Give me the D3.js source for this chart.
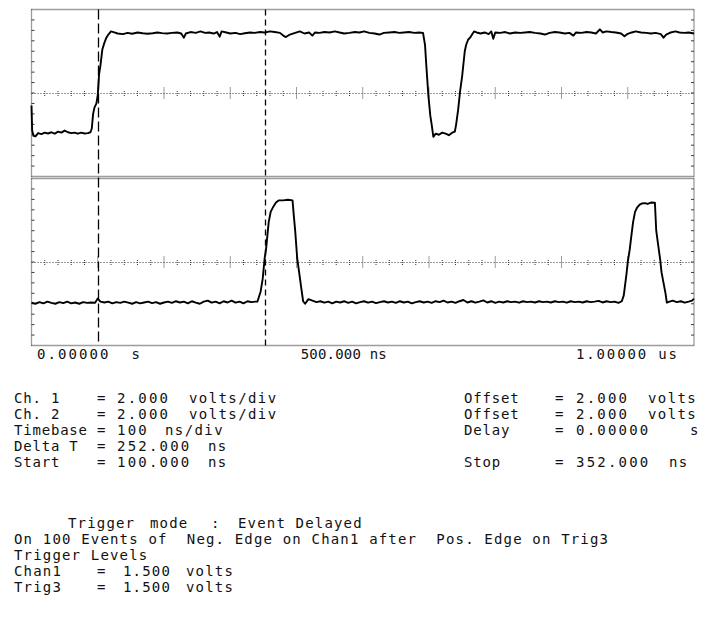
<!DOCTYPE html>
<html><head><meta charset="utf-8">
<script src="https://cdn.jsdelivr.net/npm/d3@7"></script>
<style>
body{margin:0;background:#fff}
svg{display:block}
text{font-family:"DejaVu Sans Mono",monospace;font-size:14px;letter-spacing:1.4px;white-space:pre;fill:#111}
text.ax{letter-spacing:0}
text.lab{letter-spacing:0.8px}
text.val{letter-spacing:2.2px}
text.unit{letter-spacing:1.4px}
text.trg{letter-spacing:1.17px}
</style>
</head><body>
<svg id="c" width="713" height="623"></svg>
<script>
// ---- data (time in ns, level in volts) ----
const timeDomain = [0, 1000];
const voltDomain = [-2, 6];
const cursorTimes = [100, 352];
const timeLabels = ["0.00000  s", "500.000 ns", "1.00000 us"];

const ch1 = [[0,1.4],[1,0.2],[3,-0.05],[6,-0.08],[10,0.08],[15,0.03],[20,0.1],[25,0.06],[30,0.12],[35,0.05],[40,0.15],[45,0.1],[50,0.2],[55,0.12],[60,0.08],[65,0.1],[70,0.05],[75,0.1],[80,0.06],[85,0.08],[89,0.12],
 [91,0.3],[93,1.0],[95,1.3],[98,1.5],[100,1.9],[102,2.9],[104,3.3],[107,4.1],[110,4.4],[113,4.65],[116,4.8],[120,4.95],
 [125,4.9],[130,4.85],[138,4.82],[145,4.88],[152,4.84],[160,4.9],[168,4.86],[175,4.84],[183,4.86],[190,4.9],[197,4.87],[205,4.85],[212,4.88],[220,4.9],[226,4.85],[230,4.65],[233,4.85],[240,4.92],[248,4.88],[255,4.95],[262,4.88],[268,4.9],[275,4.85],[280,4.92],[284,4.7],[287,4.95],[294,4.9],[300,4.85],[308,4.88],[315,4.82],[322,4.86],[330,4.9],[337,4.88],[345,4.92],[352,4.9],[360,4.95],[367,4.92],[375,4.88],[380,4.75],[384,4.68],[390,4.8],[398,4.88],[405,4.95],[412,4.85],[419,4.9],[424,4.75],[428,4.9],[435,4.88],[442,4.92],[450,4.9],[458,4.95],
 [465,4.9],[472,4.85],[480,4.88],[488,4.92],[495,4.9],[502,4.95],[510,4.88],[518,4.85],[525,4.8],[532,4.88],[540,4.9],[548,4.92],[555,4.88],[562,4.9],[570,4.92],[578,4.88],[585,4.9],[591,4.88],
 [594,4.3],[596,3.3],[599,1.9],[602,0.9],[604,0.5],[606.6,-0.1],
 [610,0.05],[615,0.0],[620,0.1],[625,0.05],[630,-0.02],[635,0.1],[639,0.15],
 [641,0.5],[644,1.2],[647,2.1],[650,2.8],[652,3.4],[654,4.0],[656,4.3],[659,4.55],[662,4.65],[665,4.8],[668,4.95],
 [672,4.9],[678,4.85],[684,4.9],[690,4.82],[694,4.95],[697,4.6],[700,4.9],[708,4.88],[715,4.92],[722,4.85],[730,4.9],[738,4.88],[745,4.9],[752,4.92],[760,4.88],[768,4.85],[775,4.8],[782,4.88],[790,4.92],[797,4.9],[805,4.85],[812,4.88],[818,4.75],[822,4.9],[830,4.88],[838,4.92],[845,4.9],[852,4.85],[858,5.05],[862,4.9],[868,4.95],[875,4.92],[882,4.9],[890,4.85],[895,4.72],[899,4.82],[906,4.9],[912,4.95],[920,4.9],[928,4.88],[935,4.85],[942,4.88],[950,4.82],[954,4.65],[958,4.8],[965,4.9],[972,4.95],[978,4.9],[985,4.88],[992,4.9],[1000,4.85]];

const ch2 = [[0,0.05],[6,0.0],[12,0.08],[18,0.02],[24,0.1],[30,0.04],[36,0.0],[42,0.08],[48,0.03],[54,0.1],[60,0.02],[66,0.06],[72,0.0],[78,0.08],[84,0.04],[90,0.06],[96,0.05],[100,0.25],[104,0.1],[110,0.06],[116,0.1],[122,0.02],[128,0.08],[134,0.04],[140,0.1],[146,0.05],[152,0.0],[158,0.08],[164,0.02],[170,0.06],[176,0.1],[182,0.03],[188,0.08],[194,0.0],[200,0.06],[206,0.1],[212,0.04],[218,0.12],[224,0.06],[230,0.1],[236,0.02],[242,0.12],[248,0.05],[254,0.0],[260,0.1],[266,0.15],[272,0.05],[278,0.1],[284,0.02],[290,0.12],[296,0.06],[302,0.15],[308,0.05],[314,0.1],[320,0.02],[326,0.12],[332,0.08],[338,0.1],[341,0.1],
 [343,0.3],[346,0.6],[349,1.2],[352,2.2],[354,2.6],[356,3.25],[358,3.9],[361,4.4],[365,4.65],[369,4.85],[373,4.95],[380,4.95],[387,4.98],[394,4.95],
 [396,4.2],[398,3.5],[401,2.2],[404,1.5],[407,0.8],[410,0.12],[413,0.0],
 [418,0.22],[424,0.15],[430,0.08],[436,0.12],[442,0.05],[448,0.1],[454,0.02],[460,0.1],[466,0.06],[472,0.12],[478,0.04],[484,0.1],[490,0.02],[496,0.08],[502,0.12],[508,0.05],[514,0.1],[520,0.03],[526,0.08],[532,0.12],[538,0.06],[544,0.1],[550,0.04],[556,0.12],[562,0.06],[568,0.1],[574,0.02],[580,0.08],[586,0.12],[592,0.06],[598,0.1],[604,0.04],[610,0.12],[616,0.08],[622,0.15],[628,0.06],[634,0.1],[640,0.04],[646,0.12],[652,0.18],[658,0.06],[664,0.12],[670,0.05],[676,0.1],[682,0.16],[688,0.06],[694,0.12],[700,0.04],[706,0.1],[712,0.06],[718,0.12],[724,0.08],[730,0.1],[736,0.05],[742,0.12],[748,0.08],[754,0.1],[760,0.06],[766,0.12],[772,0.08],[778,0.1],[784,0.06],[790,0.12],[796,0.08],[802,0.1],[808,0.05],[814,0.12],[820,0.08],[826,0.1],[832,0.06],[838,0.12],[844,0.08],[850,0.1],[856,0.14],[862,0.06],[868,0.12],[874,0.08],[880,0.1],[886,0.04],[891,0.12],
 [894,0.4],[896,0.9],[898,1.4],[900,2.0],[903,2.6],[906,3.4],[908,3.9],[911,4.4],[914,4.6],[918,4.75],[921,4.8],[926,4.82],[930,4.78],[935,4.85],[941,4.84],
 [943,3.5],[946,2.8],[949,2.1],[951,1.5],[954,1.0],[957,0.5],[959,0.05],[963,0.1],[968,0.15],[974,0.08],[980,0.12],[986,0.05],[992,0.1],[997,0.15],[1000,0.25]];

const leftLabels  = ["Ch. 1", "Ch. 2", "Timebase", "Delta T", "Start"];
const leftValues  = ["2.000", "2.000", "100", "252.000", "100.000"];
const leftUnits   = ["volts/div", "volts/div", "ns/div", "ns", "ns"];
const rightLabels = ["Offset", "Offset", "Delay", "", "Stop"];
const rightValues = ["2.000", "2.000", "0.00000", "", "352.000"];
const rightUnits  = ["volts", "volts", "s", "", "ns"];
const triggerMode = ["Trigger", "mode", ":", "Event Delayed"];
const triggerEvent = "On 100 Events of  Neg. Edge on Chan1 after  Pos. Edge on Trig3";
const triggerLevelsTitle = "Trigger Levels";
const levelLabels = ["Chan1", "Trig3"];
const levelValues = ["1.500", "1.500"];
const levelUnit = "volts";

// ---- drawing ----
const svg = d3.select("#c");
const X0 = 31.5, X1 = 694;
const panelsBox = [[9.5, 176.5], [178.5, 345.5]];
const x = d3.scaleLinear().domain(timeDomain).range([X0, X1]);
const gridCol = "#3a3a3a";

[ch1, ch2].forEach((data, i) => {
  const [top, bot] = panelsBox[i];
  const y = d3.scaleLinear().domain(voltDomain).range([bot, top]);
  const g = svg.append("g");
  const edges = [[X0, top, X1, top], [X0, bot, X1, bot], [X0, top, X0, bot], [X1, top, X1, bot]];
  g.selectAll("line.f").data(edges).join("line")
    .attr("x1", d => d[0]).attr("y1", d => d[1]).attr("x2", d => d[2]).attr("y2", d => d[3])
    .attr("stroke", gridCol).attr("stroke-width", 1.3).attr("stroke-dasharray", "1,1");
  const ym = Math.round(y(2)) + 0.5;
  g.append("line").attr("x1", X0).attr("x2", X1).attr("y1", ym).attr("y2", ym)
    .attr("stroke", gridCol).attr("stroke-width", 1).attr("stroke-dasharray", "1,2");
  const tks = d3.range(timeDomain[0] + 20, timeDomain[1], 20);
  g.selectAll("line.t").data(tks).join("line")
    .attr("x1", d => x(d)).attr("x2", d => x(d))
    .attr("y1", d => ym - (d % 100 === 0 ? 6 : 2.5)).attr("y2", d => ym + (d % 100 === 0 ? 6 : 2.5))
    .attr("stroke", gridCol).attr("stroke-width", 1).attr("stroke-dasharray", "1,1");
  const vt = d3.range(voltDomain[0] + 0.5, voltDomain[1], 0.5);
  [X0, X1].forEach((ex, k) => {
    g.selectAll("line.e" + k).data(vt).join("line")
      .attr("x1", ex).attr("x2", ex + (k ? -3 : 3))
      .attr("y1", d => y(d)).attr("y2", d => y(d))
      .attr("stroke", gridCol).attr("stroke-width", 1);
  });
  g.append("path").datum(data)
    .attr("d", d3.line().x(d => x(d[0])).y(d => y(d[1])))
    .attr("fill", "none").attr("stroke", "#000").attr("stroke-width", 1.9)
    .attr("stroke-linejoin", "round");
});

const dashes = ["10,4", "6,4"];
svg.selectAll("line.cur").data(cursorTimes).join("line")
  .attr("x1", d => Math.round(x(d)) + 0.5).attr("x2", d => Math.round(x(d)) + 0.5)
  .attr("y1", panelsBox[0][0]).attr("y2", panelsBox[1][1])
  .attr("stroke", "#000").attr("stroke-width", 1.3)
  .attr("stroke-dasharray", (d, i) => dashes[i]);

function tok(xp, yp, s, cls) {
  return svg.append("text").attr("class", cls || null).attr("x", xp).attr("y", yp).text(s);
}

// time labels
const axY = 359;
[[x(timeDomain[0]) + 5.5, 103], [x((timeDomain[0] + timeDomain[1]) / 2) - 62, 86], [x(timeDomain[1]) - 118, 101]]
  .forEach(([xp, len], i) => {
    tok(xp, axY, timeLabels[i], "ax").attr("textLength", len).attr("lengthAdjust", "spacing");
  });

// settings block
const rows = [403, 419, 435, 451, 467];
const lUnitX = [189, 189, 165, 208, 208];
leftLabels.forEach((t, i) => {
  tok(14, rows[i], t, "lab");
  tok(97, rows[i], "=", "lab");
  tok(117, rows[i], leftValues[i], "val");
  tok(lUnitX[i], rows[i], leftUnits[i], "unit");
});
const rUnitX = [648, 648, 690, 0, 669];
rightLabels.forEach((t, i) => {
  if (!t) return;
  tok(464, rows[i], t, "lab");
  tok(555, rows[i], "=", "lab");
  tok(576, rows[i], rightValues[i], "val");
  tok(rUnitX[i], rows[i], rightUnits[i], "unit");
});

// trigger block
const trows = [528, 544, 560, 576, 592];
[68, 150, 211, 238].forEach((xp, i) => tok(xp, trows[0], triggerMode[i], "trg"));
tok(14, trows[1], triggerEvent, "trg");
tok(14, trows[2], triggerLevelsTitle, "trg");
levelLabels.forEach((t, i) => {
  tok(14, trows[3 + i], t, "trg");
  tok(97, trows[3 + i], "=", "trg");
  tok(123, trows[3 + i], levelValues[i], "trg");
  tok(186, trows[3 + i], levelUnit, "trg");
});
</script>
</body></html>
